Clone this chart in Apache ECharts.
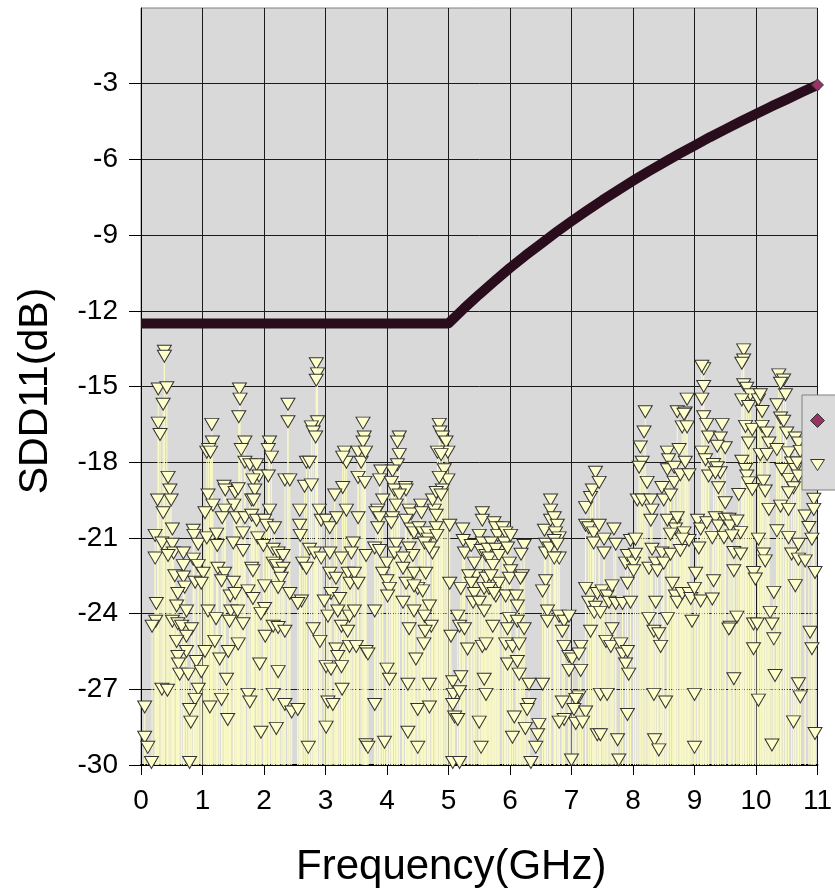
<!DOCTYPE html>
<html>
<head>
<meta charset="utf-8">
<script src="https://cdn.jsdelivr.net/npm/echarts@6/dist/echarts.min.js"></script>
<style>html,body{margin:0;padding:0;background:#fff;}#c{width:835px;height:893px;}</style>
</head>
<body>
<div id="c"></div>
<script>
// Limit line (SDD11 spec)
const limitFreq = [0, 5, 5.25, 5.5, 5.75, 6, 6.25, 6.5, 6.75, 7, 7.25, 7.5, 7.75, 8, 8.25, 8.5, 8.75, 9, 9.25, 9.5, 9.75, 10, 10.25, 10.5, 10.75, 11];
const limitDb   = [-12.5, -12.5, -11.91, -11.35, -10.82, -10.3, -9.81, -9.35, -8.89, -8.45, -8.03, -7.62, -7.23, -6.85, -6.48, -6.13, -5.78, -5.45, -5.12, -4.81, -4.5, -4.2, -3.9, -3.62, -3.33, -3.05];

// Measured points [GHz, dB], grouped by frequency span
const measured0to2 = [[0.38,-13.6],[0.38,-13.8],[0.28,-15.1],[0.42,-15.05],[0.36,-15.7],[0.28,-16.45],[0.31,-16.9],[1.15,-16.5],[1.6,-15.1],[1.61,-15.5],[1.59,-16.2],[1.16,-17.2],[1.07,-17.6],[1.1,-17.5],[1.13,-17.6],[1.69,-17.2],[1.63,-17.5],[1.69,-18.0],[1.77,-18.1],[0.44,-18.6],[0.47,-19.1],[0.27,-19.5],[0.49,-19.5],[0.36,-20.0],[0.51,-20.65],[1.09,-19.3],[1.17,-19.7],[1.04,-20.0],[1.35,-18.95],[1.37,-19.1],[1.53,-19.2],[1.58,-19.05],[1.51,-19.7],[1.36,-19.9],[1.32,-20.2],[1.55,-20.2],[1.69,-20.2],[1.8,-19.5],[1.66,-20.8],[1.8,-20.1],[0.23,-20.9],[0.34,-21.2],[0.85,-20.7],[0.86,-20.9],[0.93,-21.25],[1.07,-21.0],[1.23,-20.85],[1.24,-21.3],[1.5,-21.2],[1.66,-21.5],[0.51,-21.25],[0.53,-21.6],[0.69,-21.6],[0.23,-21.8],[0.44,-21.7],[0.85,-21.84],[0.69,-22.1],[0.93,-22.1],[1.01,-22.4],[0.55,-22.5],[0.69,-22.55],[0.71,-22.95],[0.88,-22.76],[0.98,-22.8],[1.25,-22.2],[1.36,-22.4],[1.31,-22.7],[1.5,-22.76],[1.8,-22.2],[0.6,-23.2],[0.58,-23.7],[0.25,-23.6],[0.24,-24.3],[0.18,-24.5],[0.51,-24.3],[0.6,-24.4],[0.66,-24.5],[0.74,-23.9],[0.82,-24.6],[0.74,-24.9],[1.09,-23.9],[1.22,-24.2],[1.45,-23.3],[1.46,-23.9],[1.44,-24.3],[1.53,-23.2],[1.74,-23.1],[1.66,-24.4],[1.57,-23.9],[0.58,-25.1],[0.74,-25.5],[0.6,-25.7],[0.61,-26.0],[0.9,-25.9],[1.04,-25.5],[1.2,-25.1],[1.28,-25.8],[1.42,-25.5],[1.58,-25.2],[0.63,-26.4],[0.77,-26.4],[0.98,-26.3],[0.93,-27.0],[1.39,-26.6],[0.34,-27.0],[0.43,-27.04],[0.88,-27.4],[0.06,-27.7],[0.79,-27.8],[1.12,-27.7],[1.31,-27.4],[1.74,-27.2],[1.77,-27.5],[0.81,-28.3],[1.41,-28.2],[0.06,-28.9],[0.11,-29.3],[0.17,-29.9],[0.79,-29.9]];

const measured2to4 = [[2.85,-14.1],[2.87,-14.5],[2.85,-14.75],[2.39,-15.7],[2.39,-16.4],[2.87,-16.4],[2.77,-16.6],[2.8,-16.8],[2.84,-17.0],[3.61,-16.45],[3.63,-17.0],[3.61,-17.2],[2.09,-17.2],[2.07,-17.5],[2.12,-17.8],[3.31,-17.6],[3.34,-18.0],[3.28,-17.8],[3.53,-17.6],[3.58,-18.0],[1.88,-18.1],[1.92,-18.55],[1.82,-18.7],[2.07,-18.55],[2.34,-18.7],[2.42,-18.7],[2.69,-18.0],[2.74,-18.0],[2.66,-18.95],[2.77,-18.9],[3.28,-19.0],[3.53,-18.6],[3.64,-18.8],[3.15,-19.3],[1.85,-19.1],[1.83,-19.5],[2.09,-19.9],[2.58,-19.9],[2.9,-19.9],[3.34,-19.9],[3.53,-20.2],[1.88,-20.3],[2.01,-20.3],[2.04,-20.5],[2.17,-20.6],[2.58,-20.5],[2.59,-20.9],[2.93,-20.3],[3.01,-20.3],[3.07,-20.6],[3.18,-20.2],[1.9,-21.0],[1.99,-21.3],[2.74,-21.45],[2.82,-21.6],[2.93,-21.8],[3.07,-21.6],[3.45,-21.2],[3.42,-21.6],[3.26,-21.8],[3.66,-21.7],[2.15,-21.45],[2.23,-21.6],[2.31,-21.7],[2.15,-22.0],[2.2,-22.1],[2.63,-22.0],[2.69,-22.2],[2.31,-22.2],[2.25,-22.4],[2.28,-22.6],[1.82,-22.3],[3.07,-22.4],[3.17,-22.6],[3.37,-22.4],[3.47,-22.4],[3.4,-22.8],[3.53,-22.8],[2.01,-22.9],[2.23,-22.96],[2.42,-23.2],[2.61,-23.5],[2.55,-23.6],[3.09,-23.2],[3.23,-23.4],[2.98,-23.5],[1.82,-23.4],[2.01,-23.8],[1.95,-24.0],[2.02,-24.9],[2.15,-24.5],[2.23,-24.55],[2.34,-24.7],[3.04,-24.1],[3.2,-23.9],[3.26,-24.5],[3.39,-24.1],[3.47,-23.9],[3.36,-24.7],[2.8,-24.6],[2.91,-25.1],[3.17,-25.4],[3.2,-25.7],[3.39,-25.3],[3.5,-25.3],[3.66,-25.5],[1.93,-26.0],[2.23,-26.3],[3.01,-26.1],[3.09,-26.2],[3.26,-26.1],[3.27,-27.0],[2.15,-27.2],[2.34,-27.6],[2.45,-27.9],[2.55,-27.8],[3.04,-27.5],[3.12,-27.6],[1.95,-28.7],[2.2,-28.55],[3.01,-28.5],[2.72,-29.3],[3.66,-29.2]];

const measured4to55 = [[3.65,-17.6],[4.2,-17.0],[4.17,-17.2],[4.2,-17.7],[4.17,-18.1],[4.09,-18.35],[3.9,-18.35],[3.88,-18.7],[4.07,-18.8],[4.12,-19.1],[4.3,-19.0],[4.31,-19.1],[4.2,-19.3],[3.93,-19.5],[3.85,-19.9],[3.82,-20.0],[3.88,-20.2],[3.85,-20.6],[4.15,-19.7],[4.09,-20.2],[4.07,-20.4],[4.36,-19.9],[4.39,-20.05],[4.31,-20.3],[4.55,-19.7],[4.56,-20.0],[4.77,-19.9],[4.8,-20.1],[4.74,-19.5],[4.85,-16.5],[4.86,-16.8],[4.9,-17.0],[4.96,-17.2],[4.99,-17.6],[4.82,-17.6],[4.88,-17.7],[4.93,-18.3],[4.99,-18.7],[4.85,-18.6],[4.9,-19.1],[4.8,-19.2],[4.88,-19.3],[4.39,-20.65],[4.44,-20.8],[4.52,-20.6],[4.58,-20.8],[4.66,-20.8],[4.67,-21.05],[4.8,-20.6],[4.81,-20.9],[4.74,-21.6],[4.61,-21.2],[4.69,-21.4],[4.15,-21.25],[4.12,-21.6],[3.8,-21.4],[3.88,-21.5],[4.36,-21.4],[4.42,-21.7],[4.26,-21.8],[4.0,-22.0],[4.26,-22.2],[4.44,-22.4],[4.63,-22.4],[3.93,-22.4],[4.0,-22.7],[4.04,-23.0],[4.01,-23.3],[4.31,-22.8],[4.5,-23.0],[4.58,-23.1],[4.44,-22.9],[4.26,-23.55],[4.69,-23.7],[3.8,-23.9],[4.44,-23.9],[4.61,-24.1],[4.72,-24.5],[4.36,-24.6],[4.62,-24.7],[4.6,-25.2],[3.69,-25.6],[4.47,-25.8],[4.0,-26.2],[4.04,-26.6],[4.34,-26.8],[4.69,-26.8],[3.8,-27.6],[4.5,-27.8],[4.69,-27.7],[4.34,-28.7],[3.69,-29.3],[3.96,-29.1],[4.5,-29.3],[5.02,-20.5],[5.02,-22.8],[5.04,-24.9],[5.07,-26.7],[5.08,-27.2],[5.07,-27.6],[5.1,-28.1],[5.15,-28.2],[5.07,-29.9],[5.18,-29.9],[5.15,-24.1],[5.18,-24.5],[5.26,-24.6],[5.2,-26.5],[5.18,-27.1],[5.23,-20.65],[5.24,-21.1],[5.26,-21.6],[5.2,-23.0],[5.31,-25.4],[5.37,-21.3],[5.42,-22.0],[5.45,-22.5],[5.33,-22.5],[5.37,-22.8],[5.42,-23.2],[5.4,-23.55]];

const measured55to74 = [[5.55,-20.0],[5.55,-20.3],[5.5,-20.9],[5.55,-21.2],[5.53,-21.5],[5.61,-21.7],[5.61,-22.6],[5.58,-23.0],[5.5,-23.55],[5.58,-23.9],[5.55,-25.3],[5.58,-26.6],[5.5,-28.3],[5.53,-29.3],[5.61,-27.2],[5.74,-20.4],[5.77,-20.6],[5.8,-20.9],[5.69,-21.2],[5.64,-21.45],[5.66,-21.8],[5.77,-21.45],[5.82,-21.7],[5.72,-22.1],[5.88,-20.6],[5.93,-20.8],[5.91,-21.2],[6.01,-20.9],[5.96,-21.4],[5.82,-22.8],[5.77,-23.3],[5.93,-23.3],[5.69,-22.5],[5.66,-23.0],[5.74,-23.2],[5.99,-22.0],[6.01,-22.3],[5.99,-22.6],[6.1,-23.3],[6.12,-23.7],[5.99,-24.2],[5.96,-24.6],[5.72,-24.5],[5.61,-25.2],[5.93,-25.2],[6.04,-25.3],[6.15,-25.2],[5.96,-26.0],[6.12,-25.9],[6.15,-26.4],[6.07,-28.1],[6.04,-28.9],[6.23,-21.3],[6.18,-21.65],[6.2,-22.5],[6.17,-22.6],[6.12,-24.3],[6.23,-24.6],[6.31,-26.8],[6.31,-27.6],[6.28,-27.8],[6.25,-28.55],[6.47,-28.4],[6.45,-28.8],[6.42,-29.3],[6.34,-29.9],[6.53,-26.8],[6.56,-20.7],[6.58,-21.25],[6.58,-21.6],[6.64,-21.4],[6.66,-19.5],[6.66,-19.9],[6.66,-20.3],[6.72,-20.2],[6.77,-20.5],[6.74,-20.8],[6.8,-21.0],[6.72,-21.1],[6.77,-21.25],[6.8,-21.8],[6.72,-21.8],[6.58,-22.7],[6.53,-23.1],[6.61,-23.9],[6.61,-24.3],[6.8,-24.1],[6.88,-24.3],[6.96,-24.1],[6.85,-24.7],[6.88,-25.3],[6.96,-25.7],[7.01,-25.8],[7.15,-25.3],[7.12,-25.6],[6.96,-26.25],[7.15,-26.25],[6.85,-27.5],[7.12,-27.3],[7.07,-27.4],[7.04,-27.8],[7.23,-27.9],[6.88,-28.2],[6.8,-28.3],[7.07,-28.35],[7.18,-28.3],[7.0,-29.8],[7.31,-24.7],[7.23,-23.0],[7.28,-23.55],[7.39,-23.75],[7.23,-19.8],[7.31,-19.4],[7.34,-19.1],[7.39,-18.4],[7.23,-20.5],[7.28,-20.6],[7.36,-20.8],[7.36,-21.2],[7.42,-28.8]];

const measured74to92 = [[7.45,-18.8],[7.45,-20.5],[7.53,-21.05],[7.53,-21.6],[7.69,-20.65],[7.72,-21.25],[7.42,-23.2],[7.5,-23.1],[7.58,-23.3],[7.66,-22.9],[7.37,-23.95],[7.47,-23.95],[7.61,-23.55],[7.72,-23.6],[7.83,-23.6],[7.91,-22.8],[7.96,-23.55],[7.66,-24.6],[7.56,-25.1],[7.64,-25.3],[7.8,-25.2],[7.83,-25.6],[7.91,-25.5],[7.88,-26.0],[7.93,-26.4],[7.47,-27.2],[7.58,-27.2],[7.91,-28.0],[7.47,-28.8],[7.75,-29.0],[7.77,-29.8],[7.88,-22.0],[7.91,-21.7],[7.96,-21.1],[8.04,-21.05],[8.01,-22.0],[8.04,-21.65],[8.01,-22.3],[8.2,-16.0],[8.18,-16.8],[8.12,-17.4],[8.15,-18.0],[8.1,-18.2],[8.07,-19.5],[8.23,-18.8],[8.15,-19.5],[8.29,-19.5],[8.31,-19.9],[8.29,-20.3],[8.31,-21.45],[8.26,-22.2],[8.37,-22.0],[8.4,-22.3],[8.37,-23.55],[8.26,-24.2],[8.34,-24.7],[8.45,-25.3],[8.34,-27.2],[8.35,-29.0],[8.42,-29.4],[8.53,-27.5],[8.56,-24.2],[8.42,-24.8],[8.47,-21.6],[8.5,-22.0],[8.47,-19.0],[8.5,-19.5],[8.61,-19.3],[8.56,-17.6],[8.58,-17.9],[8.56,-18.3],[8.67,-18.8],[8.61,-21.65],[8.67,-20.5],[8.56,-20.3],[8.69,-20.65],[8.61,-20.85],[8.72,-20.2],[8.83,-20.8],[8.77,-21.5],[8.91,-21.1],[8.8,-21.05],[8.64,-22.8],[8.69,-23.3],[8.72,-23.55],[8.8,-23.2],[8.75,-17.5],[8.67,-18.2],[8.77,-18.5],[8.85,-18.0],[8.91,-18.5],[8.8,-16.6],[8.72,-16.0],[8.85,-16.05],[8.88,-15.5],[8.83,-16.1],[8.88,-16.6],[8.91,-23.2],[8.94,-23.4],[9.0,-23.0],[9.02,-22.4],[8.96,-24.3],[9.0,-27.2],[9.0,-29.3],[9.05,-20.3],[9.1,-20.65],[9.07,-21.4],[9.1,-23.5],[9.12,-15.5],[9.15,-14.3],[9.15,-15.0],[9.12,-14.2],[9.15,-16.2],[9.2,-16.5],[9.23,-17.0],[9.12,-17.6],[9.18,-17.9],[9.23,-18.55],[9.2,-20.4]];

const measured92to11 = [[9.31,-18.09],[9.37,-18.22],[9.42,-18.42],[9.34,-18.42],[9.45,-16.51],[9.42,-17.04],[9.5,-17.43],[9.37,-17.37],[9.39,-19.01],[9.5,-19.61],[9.34,-20.2],[9.39,-20.53],[9.5,-20.26],[9.56,-20.26],[9.58,-20.53],[9.69,-20.33],[9.75,-20.79],[9.29,-20.99],[9.48,-20.99],[9.61,-20.92],[9.64,-21.58],[9.75,-21.64],[9.64,-22.3],[9.31,-22.7],[9.29,-23.42],[9.69,-24.14],[9.58,-24.54],[9.56,-24.61],[9.64,-26.58],[9.77,-17.96],[9.83,-18.29],[9.85,-18.55],[9.88,-18.82],[9.94,-19.08],[9.72,-19.28],[9.8,-13.55],[9.8,-13.95],[9.77,-14.08],[9.8,-14.93],[9.85,-15.07],[9.91,-15.33],[9.77,-15.53],[9.88,-15.79],[10.04,-15.53],[10.1,-15.99],[10.07,-15.33],[9.83,-16.58],[9.94,-16.71],[9.88,-17.24],[10.1,-16.58],[10.18,-16.84],[10.21,-17.24],[10.07,-17.7],[10.18,-17.7],[10.12,-18.75],[10.15,-19.14],[10.21,-19.87],[10.04,-21.05],[10.12,-21.64],[10.15,-21.91],[9.96,-22.37],[9.99,-22.63],[10.29,-23.16],[10.23,-23.95],[10.26,-24.41],[10.29,-25.0],[9.96,-24.41],[10.02,-24.41],[9.96,-25.39],[10.04,-27.43],[10.26,-29.21],[10.31,-26.45],[10.37,-14.54],[10.45,-14.74],[10.48,-15.33],[10.34,-15.72],[10.4,-14.87],[10.4,-16.25],[10.45,-16.38],[10.5,-16.84],[10.34,-17.5],[10.53,-17.63],[10.58,-18.03],[10.64,-18.29],[10.42,-18.29],[10.53,-18.68],[10.61,-19.01],[10.53,-19.21],[10.4,-19.74],[10.53,-19.87],[10.34,-20.72],[10.53,-20.99],[10.58,-21.64],[10.69,-21.25],[10.69,-21.84],[10.8,-21.91],[10.64,-22.89],[10.64,-17.04],[10.69,-17.24],[10.72,-17.57],[10.67,-18.03],[10.69,-18.55],[10.8,-20.13],[10.86,-20.59],[10.91,-21.05],[10.94,-19.47],[10.94,-19.87],[10.96,-22.37],[10.88,-24.74],[10.91,-25.39],[10.69,-26.78],[10.72,-27.3],[10.61,-28.29],[10.96,-28.75]];

// Axis ticks
const yTicks = [-30, -27, -24, -21, -18, -15, -12, -9, -6, -3];
const xTicks = [0,1,2,3,4,5,6,7,8,9,10,11];

const measured = [].concat(measured0to2, measured2to4, measured4to55, measured55to74, measured74to92, measured92to11);
const limitData = limitFreq.map((f, i) => [f, limitDb[i]]);
const lastIdx = limitData.length - 1;
const limitSeriesData = limitData.map((p, i) => i === lastIdx
  ? { value: p, symbol: 'diamond', symbolSize: 12, itemStyle: { color: '#993366', borderColor: '#333333', borderWidth: 1 } }
  : { value: p });

const TRI = 'path://M0,0L14,0L7,11Z';
const FONT = 'Liberation Sans, Arial, sans-serif';

const chart = echarts.init(document.getElementById('c'), null, { renderer: 'canvas' });
chart.setOption({
  animation: false,
  backgroundColor: '#ffffff',
  grid: {
    left: 141, top: 8, right: 16, bottom: 123,
    show: true, backgroundColor: '#d9d9d9', borderColor: '#808080', borderWidth: 1,
    containLabel: false
  },
  legend: {
    orient: 'vertical',
    left: 802, top: 395,
    padding: [18, 10, 18, 8],
    itemGap: 30,
    itemWidth: 14, itemHeight: 14,
    backgroundColor: '#dadada',
    borderColor: '#808080', borderWidth: 1,
    textStyle: { fontSize: 14, fontFamily: FONT, color: '#000', padding: [0, 0, 0, 30] },
    data: [
      { name: 'SDD11 Limit', icon: 'diamond', itemStyle: { color: '#993366', borderColor: '#333333', borderWidth: 1 } },
      { name: 'SDD11', icon: TRI, itemStyle: { color: '#ffffcc', borderColor: '#333333', borderWidth: 1 } }
    ]
  },
  xAxis: {
    type: 'value', min: 0, max: 11, interval: 1,
    name: 'Frequency(GHz)', nameLocation: 'middle', nameGap: 81,
    nameTextStyle: { fontSize: 42, fontFamily: FONT, color: '#000', padding: [0, 56, 0, 0] },
    axisLine: { show: true, onZero: false, lineStyle: { color: '#000', width: 2 } },
    axisTick: { show: true, inside: false, length: 10, lineStyle: { color: '#000', width: 1 } },
    axisLabel: { show: true, margin: 22, fontSize: 28, fontFamily: FONT, color: '#000', customValues: xTicks },
    splitLine: { show: true, lineStyle: { color: '#1a1a1a', width: 1 } }
  },
  yAxis: {
    type: 'value', min: -30, max: 0, interval: 3,
    name: 'SDD11(dB)', nameLocation: 'middle', nameGap: 85, nameRotate: 90,
    nameTextStyle: { fontSize: 41, fontFamily: FONT, color: '#000', padding: [0, 9, 0, 0] },
    axisLine: { show: true, onZero: false, lineStyle: { color: '#000', width: 1 } },
    axisTick: { show: true, inside: false, length: 12, lineStyle: { color: '#000', width: 1 }, customValues: yTicks },
    axisLabel: { show: true, margin: 23, fontSize: 28, fontFamily: FONT, color: '#000', customValues: yTicks,
      formatter: v => (v === 0 ? '' : String(v)) },
    splitLine: { show: true, lineStyle: { color: '#1a1a1a', width: 1 } }
  },
  series: [
    {
      name: 'drop',
      type: 'custom',
      coordinateSystem: 'cartesian2d',
      z: 1,
      silent: true,
      data: measured,
      encode: { x: 0, y: 1 },
      renderItem: function (params, api) {
        const top = api.coord([api.value(0), api.value(1)]);
        const bot = api.coord([api.value(0), -30]);
        return {
          type: 'line',
          shape: { x1: top[0], y1: top[1], x2: bot[0], y2: bot[1] },
          style: { stroke: '#fbfbc4', lineWidth: 1 }
        };
      }
    },
    {
      name: 'SDD11',
      type: 'scatter',
      z: 2,
      data: measured,
      symbol: TRI,
      symbolSize: [14, 12],
      itemStyle: { color: '#ffffcc', borderColor: '#333333', borderWidth: 1, opacity: 1 }
    },
    {
      name: 'SDD11 Limit',
      type: 'line',
      z: 3,
      data: limitSeriesData,
      symbol: 'none',
      lineStyle: { color: '#2a0d1c', width: 10, join: 'round', cap: 'butt' },
      itemStyle: { color: '#993366' }
    }
  ]
});
</script>
</body>
</html>
